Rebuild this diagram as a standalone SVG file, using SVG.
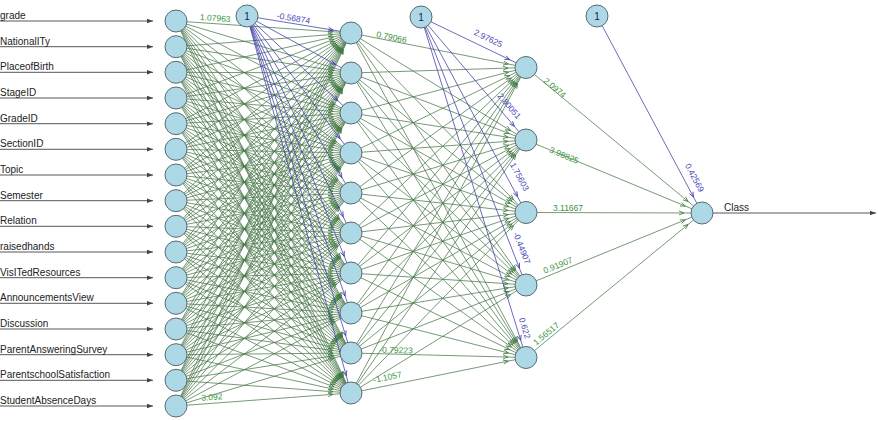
<svg xmlns="http://www.w3.org/2000/svg" width="878" height="421" viewBox="0 0 878 421">
<defs>
<style>
.bg{fill:#ffffff}
.node circle{fill:#add8e6;stroke:#5a6a70;stroke-width:1}
.entry path{stroke:#444;stroke-width:0.9;fill:none;marker-end:url(#ae)}
.eg path{stroke:#4a774a;stroke-width:0.75;fill:none;marker-end:url(#ag)}
.eb path{stroke:#3a3aa8;stroke-width:0.75;fill:none;marker-end:url(#ab)}
.in{font-family:"Liberation Sans",Arial,sans-serif;font-size:10px;fill:#222}
.one{font-family:"Liberation Sans",Arial,sans-serif;font-size:10px;fill:#1a2050;text-anchor:middle}
.wg{font-family:"Liberation Sans",Arial,sans-serif;font-size:8.5px;fill:#3a943c;text-anchor:middle}
.wb{font-family:"Liberation Sans",Arial,sans-serif;font-size:8.5px;fill:#4848b8;text-anchor:middle}
</style>
<marker id="ae" viewBox="0 0 6 6" refX="6" refY="3" markerWidth="6" markerHeight="6" markerUnits="userSpaceOnUse" orient="auto"><path d="M0,0.8L6,3L0,5.2z" fill="#444"/></marker>
<marker id="ag" viewBox="-26 -4 27 8" refX="0" refY="0" markerWidth="27" markerHeight="8" markerUnits="userSpaceOnUse" orient="auto" overflow="visible"><path d="M-23,-2L-18,0L-23,2" fill="none" stroke="#3f7a3f" stroke-width="0.8"/></marker>
<marker id="ab" viewBox="-26 -4 27 8" refX="0" refY="0" markerWidth="27" markerHeight="8" markerUnits="userSpaceOnUse" orient="auto" overflow="visible"><path d="M-23,-2L-18,0L-23,2" fill="none" stroke="#3a3aa8" stroke-width="0.8"/></marker>
</defs>
<rect class="bg" x="0" y="0" width="878" height="421"/>
<g id="connectors">
<g class="entry">
<path d="M0 21H153"/><path d="M0 46.7H153"/><path d="M0 72.3H153"/><path d="M0 98H153"/>
<path d="M0 123.7H153"/><path d="M0 149.3H153"/><path d="M0 175H153"/><path d="M0 200.7H153"/>
<path d="M0 226.3H153"/><path d="M0 252H153"/><path d="M0 277.7H153"/><path d="M0 303.3H153"/>
<path d="M0 329H153"/><path d="M0 354.7H153"/><path d="M0 380.3H153"/><path d="M0 406H153"/>
<path d="M713 213H876"/>
</g>
<g class="eg">
<path d="M176 21L351 33"/><path d="M176 21L351 73"/><path d="M176 21L351 113"/><path d="M176 21L351 153"/><path d="M176 21L351 193"/><path d="M176 21L351 233"/><path d="M176 21L351 273"/><path d="M176 21L351 313"/><path d="M176 21L351 353"/><path d="M176 21L351 393"/>
<path d="M176 46.7L351 33"/><path d="M176 46.7L351 73"/><path d="M176 46.7L351 113"/><path d="M176 46.7L351 153"/><path d="M176 46.7L351 193"/><path d="M176 46.7L351 233"/><path d="M176 46.7L351 273"/><path d="M176 46.7L351 313"/><path d="M176 46.7L351 353"/><path d="M176 46.7L351 393"/>
<path d="M176 72.3L351 33"/><path d="M176 72.3L351 73"/><path d="M176 72.3L351 113"/><path d="M176 72.3L351 153"/><path d="M176 72.3L351 193"/><path d="M176 72.3L351 233"/><path d="M176 72.3L351 273"/><path d="M176 72.3L351 313"/><path d="M176 72.3L351 353"/><path d="M176 72.3L351 393"/>
<path d="M176 98L351 33"/><path d="M176 98L351 73"/><path d="M176 98L351 113"/><path d="M176 98L351 153"/><path d="M176 98L351 193"/><path d="M176 98L351 233"/><path d="M176 98L351 273"/><path d="M176 98L351 313"/><path d="M176 98L351 353"/><path d="M176 98L351 393"/>
<path d="M176 123.7L351 33"/><path d="M176 123.7L351 73"/><path d="M176 123.7L351 113"/><path d="M176 123.7L351 153"/><path d="M176 123.7L351 193"/><path d="M176 123.7L351 233"/><path d="M176 123.7L351 273"/><path d="M176 123.7L351 313"/><path d="M176 123.7L351 353"/><path d="M176 123.7L351 393"/>
<path d="M176 149.3L351 33"/><path d="M176 149.3L351 73"/><path d="M176 149.3L351 113"/><path d="M176 149.3L351 153"/><path d="M176 149.3L351 193"/><path d="M176 149.3L351 233"/><path d="M176 149.3L351 273"/><path d="M176 149.3L351 313"/><path d="M176 149.3L351 353"/><path d="M176 149.3L351 393"/>
<path d="M176 175L351 33"/><path d="M176 175L351 73"/><path d="M176 175L351 113"/><path d="M176 175L351 153"/><path d="M176 175L351 193"/><path d="M176 175L351 233"/><path d="M176 175L351 273"/><path d="M176 175L351 313"/><path d="M176 175L351 353"/><path d="M176 175L351 393"/>
<path d="M176 200.7L351 33"/><path d="M176 200.7L351 73"/><path d="M176 200.7L351 113"/><path d="M176 200.7L351 153"/><path d="M176 200.7L351 193"/><path d="M176 200.7L351 233"/><path d="M176 200.7L351 273"/><path d="M176 200.7L351 313"/><path d="M176 200.7L351 353"/><path d="M176 200.7L351 393"/>
<path d="M176 226.3L351 33"/><path d="M176 226.3L351 73"/><path d="M176 226.3L351 113"/><path d="M176 226.3L351 153"/><path d="M176 226.3L351 193"/><path d="M176 226.3L351 233"/><path d="M176 226.3L351 273"/><path d="M176 226.3L351 313"/><path d="M176 226.3L351 353"/><path d="M176 226.3L351 393"/>
<path d="M176 252L351 33"/><path d="M176 252L351 73"/><path d="M176 252L351 113"/><path d="M176 252L351 153"/><path d="M176 252L351 193"/><path d="M176 252L351 233"/><path d="M176 252L351 273"/><path d="M176 252L351 313"/><path d="M176 252L351 353"/><path d="M176 252L351 393"/>
<path d="M176 277.7L351 33"/><path d="M176 277.7L351 73"/><path d="M176 277.7L351 113"/><path d="M176 277.7L351 153"/><path d="M176 277.7L351 193"/><path d="M176 277.7L351 233"/><path d="M176 277.7L351 273"/><path d="M176 277.7L351 313"/><path d="M176 277.7L351 353"/><path d="M176 277.7L351 393"/>
<path d="M176 303.3L351 33"/><path d="M176 303.3L351 73"/><path d="M176 303.3L351 113"/><path d="M176 303.3L351 153"/><path d="M176 303.3L351 193"/><path d="M176 303.3L351 233"/><path d="M176 303.3L351 273"/><path d="M176 303.3L351 313"/><path d="M176 303.3L351 353"/><path d="M176 303.3L351 393"/>
<path d="M176 329L351 33"/><path d="M176 329L351 73"/><path d="M176 329L351 113"/><path d="M176 329L351 153"/><path d="M176 329L351 193"/><path d="M176 329L351 233"/><path d="M176 329L351 273"/><path d="M176 329L351 313"/><path d="M176 329L351 353"/><path d="M176 329L351 393"/>
<path d="M176 354.7L351 33"/><path d="M176 354.7L351 73"/><path d="M176 354.7L351 113"/><path d="M176 354.7L351 153"/><path d="M176 354.7L351 193"/><path d="M176 354.7L351 233"/><path d="M176 354.7L351 273"/><path d="M176 354.7L351 313"/><path d="M176 354.7L351 353"/><path d="M176 354.7L351 393"/>
<path d="M176 380.3L351 33"/><path d="M176 380.3L351 73"/><path d="M176 380.3L351 113"/><path d="M176 380.3L351 153"/><path d="M176 380.3L351 193"/><path d="M176 380.3L351 233"/><path d="M176 380.3L351 273"/><path d="M176 380.3L351 313"/><path d="M176 380.3L351 353"/><path d="M176 380.3L351 393"/>
<path d="M176 406L351 33"/><path d="M176 406L351 73"/><path d="M176 406L351 113"/><path d="M176 406L351 153"/><path d="M176 406L351 193"/><path d="M176 406L351 233"/><path d="M176 406L351 273"/><path d="M176 406L351 313"/><path d="M176 406L351 353"/><path d="M176 406L351 393"/>
<path d="M351 33L526 67.5"/><path d="M351 33L526 140"/><path d="M351 33L526 212.5"/><path d="M351 33L526 285"/><path d="M351 33L526 357.5"/>
<path d="M351 73L526 67.5"/><path d="M351 73L526 140"/><path d="M351 73L526 212.5"/><path d="M351 73L526 285"/><path d="M351 73L526 357.5"/>
<path d="M351 113L526 67.5"/><path d="M351 113L526 140"/><path d="M351 113L526 212.5"/><path d="M351 113L526 285"/><path d="M351 113L526 357.5"/>
<path d="M351 153L526 67.5"/><path d="M351 153L526 140"/><path d="M351 153L526 212.5"/><path d="M351 153L526 285"/><path d="M351 153L526 357.5"/>
<path d="M351 193L526 67.5"/><path d="M351 193L526 140"/><path d="M351 193L526 212.5"/><path d="M351 193L526 285"/><path d="M351 193L526 357.5"/>
<path d="M351 233L526 67.5"/><path d="M351 233L526 140"/><path d="M351 233L526 212.5"/><path d="M351 233L526 285"/><path d="M351 233L526 357.5"/>
<path d="M351 273L526 67.5"/><path d="M351 273L526 140"/><path d="M351 273L526 212.5"/><path d="M351 273L526 285"/><path d="M351 273L526 357.5"/>
<path d="M351 313L526 67.5"/><path d="M351 313L526 140"/><path d="M351 313L526 212.5"/><path d="M351 313L526 285"/><path d="M351 313L526 357.5"/>
<path d="M351 353L526 67.5"/><path d="M351 353L526 140"/><path d="M351 353L526 212.5"/><path d="M351 353L526 285"/><path d="M351 353L526 357.5"/>
<path d="M351 393L526 67.5"/><path d="M351 393L526 140"/><path d="M351 393L526 212.5"/><path d="M351 393L526 285"/><path d="M351 393L526 357.5"/>
<path d="M526 67.5L702 213"/><path d="M526 140L702 213"/><path d="M526 212.5L702 213"/><path d="M526 285L702 213"/><path d="M526 357.5L702 213"/>
</g>
<g class="eb">
<path d="M247 16L351 33"/><path d="M247 16L351 73"/><path d="M247 16L351 113"/><path d="M247 16L351 153"/><path d="M247 16L351 193"/><path d="M247 16L351 233"/><path d="M247 16L351 273"/><path d="M247 16L351 313"/><path d="M247 16L351 353"/><path d="M247 16L351 393"/>
<path d="M421 17L526 67.5"/><path d="M421 17L526 140"/><path d="M421 17L526 212.5"/><path d="M421 17L526 285"/><path d="M421 17L526 357.5"/>
<path d="M597 16L702 213"/>
</g>
</g>
<g id="input-nodes">
<g id="in-grade" class="node"><text class="in" x="0" y="19">grade</text><circle cx="176" cy="21" r="11"/></g>
<g id="in-nationality" class="node"><text class="in" x="0" y="44.7">NationalITy</text><circle cx="176" cy="46.7" r="11"/></g>
<g id="in-placeofbirth" class="node"><text class="in" x="0" y="70.3">PlaceofBirth</text><circle cx="176" cy="72.3" r="11"/></g>
<g id="in-stageid" class="node"><text class="in" x="0" y="96">StageID</text><circle cx="176" cy="98" r="11"/></g>
<g id="in-gradeid" class="node"><text class="in" x="0" y="121.7">GradeID</text><circle cx="176" cy="123.7" r="11"/></g>
<g id="in-sectionid" class="node"><text class="in" x="0" y="147.3">SectionID</text><circle cx="176" cy="149.3" r="11"/></g>
<g id="in-topic" class="node"><text class="in" x="0" y="173">Topic</text><circle cx="176" cy="175" r="11"/></g>
<g id="in-semester" class="node"><text class="in" x="0" y="198.7">Semester</text><circle cx="176" cy="200.7" r="11"/></g>
<g id="in-relation" class="node"><text class="in" x="0" y="224.3">Relation</text><circle cx="176" cy="226.3" r="11"/></g>
<g id="in-raisedhands" class="node"><text class="in" x="0" y="250">raisedhands</text><circle cx="176" cy="252" r="11"/></g>
<g id="in-visitedresources" class="node"><text class="in" x="0" y="275.7">VisITedResources</text><circle cx="176" cy="277.7" r="11"/></g>
<g id="in-announcementsview" class="node"><text class="in" x="0" y="301.3">AnnouncementsView</text><circle cx="176" cy="303.3" r="11"/></g>
<g id="in-discussion" class="node"><text class="in" x="0" y="327">Discussion</text><circle cx="176" cy="329" r="11"/></g>
<g id="in-parentansweringsurvey" class="node"><text class="in" x="0" y="352.7">ParentAnsweringSurvey</text><circle cx="176" cy="354.7" r="11"/></g>
<g id="in-parentschoolsatisfaction" class="node"><text class="in" x="0" y="378.3">ParentschoolSatisfaction</text><circle cx="176" cy="380.3" r="11"/></g>
<g id="in-studentabsencedays" class="node"><text class="in" x="0" y="404">StudentAbsenceDays</text><circle cx="176" cy="406" r="11"/></g>
</g>
<g id="hidden1">
<g id="h1-1" class="node"><circle cx="351" cy="33" r="11"/></g>
<g id="h1-2" class="node"><circle cx="351" cy="73" r="11"/></g>
<g id="h1-3" class="node"><circle cx="351" cy="113" r="11"/></g>
<g id="h1-4" class="node"><circle cx="351" cy="153" r="11"/></g>
<g id="h1-5" class="node"><circle cx="351" cy="193" r="11"/></g>
<g id="h1-6" class="node"><circle cx="351" cy="233" r="11"/></g>
<g id="h1-7" class="node"><circle cx="351" cy="273" r="11"/></g>
<g id="h1-8" class="node"><circle cx="351" cy="313" r="11"/></g>
<g id="h1-9" class="node"><circle cx="351" cy="353" r="11"/></g>
<g id="h1-10" class="node"><circle cx="351" cy="393" r="11"/></g>
</g>
<g id="hidden2">
<g id="h2-1" class="node"><circle cx="526" cy="67.5" r="11"/></g>
<g id="h2-2" class="node"><circle cx="526" cy="140" r="11"/></g>
<g id="h2-3" class="node"><circle cx="526" cy="212.5" r="11"/></g>
<g id="h2-4" class="node"><circle cx="526" cy="285" r="11"/></g>
<g id="h2-5" class="node"><circle cx="526" cy="357.5" r="11"/></g>
</g>
<g id="bias-nodes">
<g id="bias1" class="node"><circle cx="247" cy="16" r="11"/><text class="one" x="247" y="19.5">1</text></g>
<g id="bias2" class="node"><circle cx="421" cy="17" r="11"/><text class="one" x="421" y="20.5">1</text></g>
<g id="bias3" class="node"><circle cx="597" cy="16" r="11"/><text class="one" x="597" y="19.5">1</text></g>
</g>
<g id="output" class="node"><circle cx="702" cy="213" r="11"/><text class="in" x="724" y="211">Class</text></g>
<g id="weights">
<text class="wg" transform="translate(215 21) rotate(3.9)" y="0">1.07963</text>
<text class="wg" transform="translate(212 400) rotate(-4.3)" y="0">3.092</text>
<text class="wb" transform="translate(293 21) rotate(9.3)" y="0">-0.56874</text>
<text class="wg" transform="translate(391 40) rotate(11.2)" y="0">0.79066</text>
<text class="wg" transform="translate(388 380) rotate(-11.5)" y="0">-1.1057</text>
<text class="wg" transform="translate(396 353) rotate(1.5)" y="0">-0.79223</text>
<text class="wb" transform="translate(487 41) rotate(25.7)" y="0">2.97625</text>
<text class="wb" transform="translate(507 108) rotate(49.5)" y="0">2.80051</text>
<text class="wb" transform="translate(517 178) rotate(61.8)" y="0">1.75603</text>
<text class="wb" transform="translate(519 249) rotate(68.6)" y="0">-0.44907</text>
<text class="wb" transform="translate(522 329) rotate(72.9)" y="0">0.622</text>
<text class="wg" transform="translate(553 90) rotate(39.6)" y="0">2.0974</text>
<text class="wg" transform="translate(563 158) rotate(22.5)" y="0">3.98825</text>
<text class="wg" transform="translate(568 211) rotate(0)" y="0">3.11667</text>
<text class="wg" transform="translate(559 268) rotate(-22.2)" y="0">0.91907</text>
<text class="wg" transform="translate(548 336) rotate(-39.4)" y="0">1.56517</text>
<text class="wb" transform="translate(692 179) rotate(61.9)" y="0">0.42569</text>
</g>
</svg>
